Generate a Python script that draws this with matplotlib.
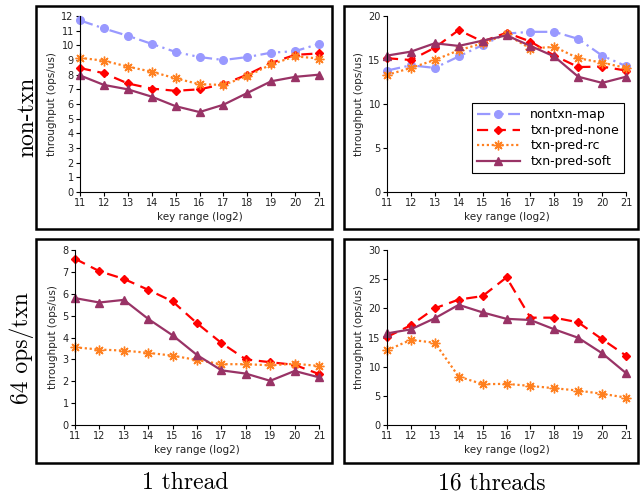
#
# Throughput vs key range, 2x2 grid (non-txn / 64 ops per txn, 1 and 16 threads)
#
import numpy as np
import matplotlib.pyplot as plt
from matplotlib.patches import Rectangle

# -------------------------------------------------------------------- #
# Data
# -------------------------------------------------------------------- #
key_range = [11, 12, 13, 14, 15, 16, 17, 18, 19, 20, 21]

# non-txn, 1 thread
nt1_map = [11.7, 11.15, 10.65, 10.1, 9.55, 9.2, 9.0, 9.2, 9.5, 9.6, 10.1]
nt1_none = [8.45, 8.1, 7.4, 7.05, 6.9, 7.0, 7.35, 8.0, 8.8, 9.35, 9.45]
nt1_rc = [9.15, 8.95, 8.55, 8.2, 7.75, 7.35, 7.3, 7.9, 8.7, 9.25, 9.1]
nt1_soft = [7.95, 7.3, 7.0, 6.5, 5.85, 5.45, 5.95, 6.75, 7.55, 7.85, 8.0]

# non-txn, 16 threads
nt16_map = [13.8, 14.4, 14.1, 15.4, 16.7, 18.0, 18.2, 18.2, 17.4, 15.5, 14.3]
nt16_none = [15.2, 15.0, 16.4, 18.4, 17.1, 18.1, 17.1, 15.5, 14.2, 14.25, 13.8]
nt16_rc = [13.3, 14.1, 15.0, 16.1, 16.9, 17.9, 16.3, 16.5, 15.2, 14.7, 14.1]
nt16_soft = [15.5, 15.95, 16.9, 16.6, 17.2, 17.8, 16.6, 15.4, 13.1, 12.4, 13.1]

# 64 ops/txn, 1 thread
tx1_none = [7.6, 7.03, 6.68, 6.18, 5.65, 4.65, 3.75, 3.0, 2.87, 2.75, 2.33]
tx1_rc = [3.55, 3.45, 3.4, 3.3, 3.17, 2.97, 2.78, 2.78, 2.73, 2.8, 2.7]
tx1_soft = [5.8, 5.6, 5.72, 4.85, 4.1, 3.2, 2.5, 2.35, 2.02, 2.47, 2.18]

# 64 ops/txn, 16 threads
tx16_none = [15.1, 17.1, 20.0, 21.5, 22.1, 25.3, 18.4, 18.4, 17.6, 14.7, 11.9]
tx16_rc = [12.8, 14.6, 14.1, 8.3, 7.0, 7.05, 6.7, 6.3, 5.9, 5.35, 4.7]
tx16_soft = [15.7, 16.4, 18.3, 20.6, 19.3, 18.2, 18.0, 16.4, 14.95, 12.3, 8.9]

row_labels = ['non-txn', '64 ops/txn']
col_labels = ['1 thread', '16 threads']

# -------------------------------------------------------------------- #
# Styles
# -------------------------------------------------------------------- #
styles = {
    'nontxn-map': dict(color='#9999ff', ls=(0, (6, 2, 1, 2, 1, 2)), marker='o', ms=5.5),
    'txn-pred-none': dict(color='#ff0000', ls=(0, (5, 3)), marker='D', ms=4.2),
    'txn-pred-rc': dict(color='#ff8020', ls=(0, (1, 1.2)), marker=(8, 2, 0), ms=7),
    'txn-pred-soft': dict(color='#993366', ls='-', marker='^', ms=6),
}

panels = [
    # (left px, right px, top px, bottom px, ymax, yticks, series)
    (80, 319, 16, 192, 12, np.arange(0, 13, 1),
     {'nontxn-map': nt1_map, 'txn-pred-none': nt1_none,
      'txn-pred-rc': nt1_rc, 'txn-pred-soft': nt1_soft}),
    (387, 626, 16, 192, 20, np.arange(0, 21, 5),
     {'nontxn-map': nt16_map, 'txn-pred-none': nt16_none,
      'txn-pred-rc': nt16_rc, 'txn-pred-soft': nt16_soft}),
    (75, 319, 250, 425, 8, np.arange(0, 9, 1),
     {'txn-pred-none': tx1_none, 'txn-pred-rc': tx1_rc, 'txn-pred-soft': tx1_soft}),
    (387, 626, 250, 425, 30, np.arange(0, 31, 5),
     {'txn-pred-none': tx16_none, 'txn-pred-rc': tx16_rc, 'txn-pred-soft': tx16_soft}),
]

W, H = 643, 496
fig = plt.figure(figsize=(W / 100, H / 100), dpi=100)

axes = []
for left, right, top, bottom, ymax, yticks, series in panels:
    ax = fig.add_axes([left / W, 1 - bottom / H, (right - left) / W, (bottom - top) / H])
    for name, vals in series.items():
        st = styles[name]
        ax.plot(key_range, vals, color=st['color'], ls=st['ls'], lw=1.6,
                marker=st['marker'], ms=st['ms'], mew=1.0, label=name, clip_on=False)
    ax.set_xlim(11, 21)
    ax.set_ylim(0, ymax)
    ax.set_xticks(key_range)
    ax.set_yticks(yticks)
    ax.spines['top'].set_visible(False)
    ax.spines['right'].set_visible(False)
    ax.tick_params(labelsize=7, length=3, width=0.8, pad=1.5, labelcolor='#222222')
    ax.set_xlabel('key range (log2)', fontsize=7.5, labelpad=3, color='#222222')
    ax.set_ylabel('throughput (ops/us)', fontsize=7.5, labelpad=3, color='#222222')
    axes.append(ax)

# legend only in the top right panel
leg = axes[1].legend(loc='lower right', bbox_to_anchor=(0.992, 0.108), borderaxespad=0,
                     fontsize=9, handlelength=3.5, fancybox=False, framealpha=1,
                     borderpad=0.4, labelspacing=0.2, handletextpad=0.8)
leg.get_frame().set_edgecolor('black')
leg.get_frame().set_linewidth(0.8)

# black frames round each panel
frames = [(36, 332, 6, 229), (344, 638, 6, 229), (36, 332, 239, 463), (344, 638, 239, 463)]
for x0, x1, y0, y1 in frames:
    fig.patches.append(Rectangle((x0 / W, 1 - y1 / H), (x1 - x0) / W, (y1 - y0) / H,
                                 transform=fig.transFigure, fill=False,
                                 edgecolor='black', lw=1.8))

# row and column titles
fig.text(27 / W, 1 - 117 / H, row_labels[0], rotation=90, ha='center', va='center',
         fontsize=17, family='cmr10')
fig.text(22 / W, 1 - 348 / H, row_labels[1], rotation=90, ha='center', va='center',
         fontsize=17, family='cmr10')
fig.text(185 / W, 1 - 483 / H, col_labels[0], ha='center', va='center',
         fontsize=17, family='cmr10')
fig.text(492 / W, 1 - 483 / H, col_labels[1], ha='center', va='center',
         fontsize=17, family='cmr10')

fig.savefig('out.png', dpi=100)
